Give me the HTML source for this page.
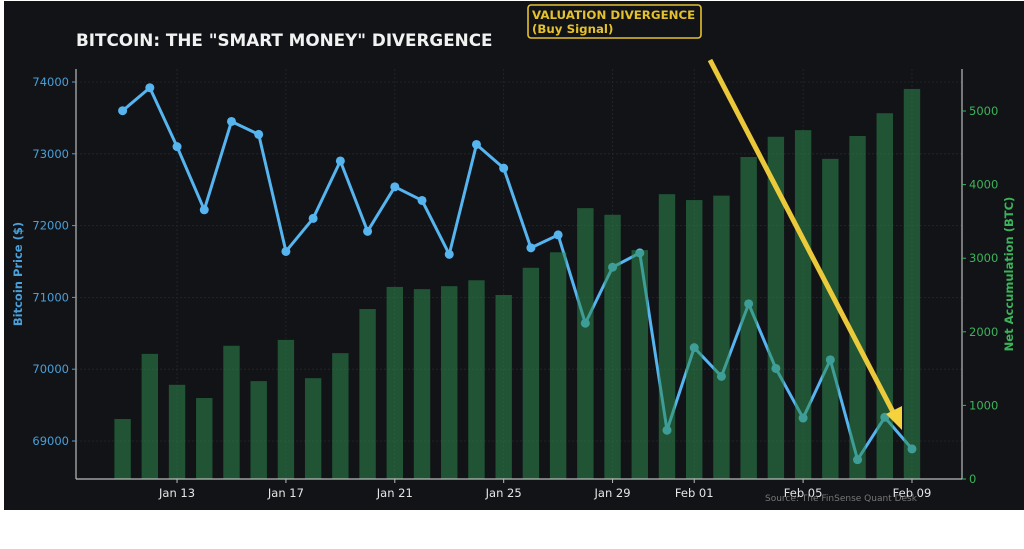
<!DOCTYPE html>
<html><head><meta charset="utf-8"><style>
html,body{margin:0;padding:0;background:#fff;width:1024px;height:549px;overflow:hidden}
svg{display:block}
text{font-family:"DejaVu Sans","Liberation Sans",sans-serif}
</style></head><body>
<svg id="s" width="1024" height="549" xmlns="http://www.w3.org/2000/svg">
<rect x="4" y="1" width="1020" height="509" fill="#111317"/>
<g id="grid"></g>
<g id="line"></g>
<g id="bars"></g>
<line x1="710" y1="60" x2="893" y2="412" stroke="#f6d23c" stroke-width="5" opacity="0.95"/>
<polygon points="886,414 902,406 902,430" fill="#f6d23c"/>
<line x1="76" y1="69" x2="76" y2="479" stroke="#bbb" stroke-width="1.2"/>
<line x1="962" y1="69" x2="962" y2="479" stroke="#bbb" stroke-width="1.2"/>
<line x1="76" y1="479" x2="962" y2="479" stroke="#bbb" stroke-width="1.2"/>
<g id="ticks"></g>
<text x="76" y="46" fill="#f2f2f2" font-size="16.8" font-weight="bold">BITCOIN: THE "SMART MONEY" DIVERGENCE</text>
<rect x="528" y="5" width="173" height="33" rx="3" fill="#111317" stroke="#e5c12e" stroke-width="1.6"/>
<text x="532" y="19" fill="#e5c12e" font-size="11.8" font-weight="bold">VALUATION DIVERGENCE</text>
<text x="532" y="33" fill="#e5c12e" font-size="11.8" font-weight="bold">(Buy Signal)</text>
<text transform="translate(22,274) rotate(-90)" text-anchor="middle" fill="#4a9fd8" font-size="11.5" font-weight="bold">Bitcoin Price ($)</text>
<text transform="translate(1013,274) rotate(-90)" text-anchor="middle" fill="#3cb35a" font-size="11.5" font-weight="bold">Net Accumulation (BTC)</text>
<text x="765" y="501" fill="#777" font-size="9">Source: The FinSense Quant Desk</text>
</svg>
<script>
const NS="http://www.w3.org/2000/svg";
function el(p,t,a,txt){const e=document.createElementNS(NS,t);for(const k in a)e.setAttribute(k,a[k]);if(txt!==undefined)e.textContent=txt;document.getElementById(p).appendChild(e);return e;}
const X=i=>122.6+i*27.22;
const P=[73600,73920,73100,72220,73450,73270,71640,72100,72900,71920,72540,72350,71600,73130,72800,71690,71870,70640,71420,71620,69150,70300,69900,70910,70010,69320,70130,68740,69330,68890];
const B=[815,1700,1280,1100,1810,1330,1890,1370,1710,2310,2610,2580,2620,2700,2500,2870,3080,3680,3590,3110,3870,3790,3850,4375,4650,4740,4350,4660,4970,5300];
const YP=p=>82+(74000-p)*0.0718, YB=b=>479-b*0.0736;
for(let v=69000;v<=74000;v+=1000){const y=YP(v);el("grid","line",{x1:76,x2:962,y1:y,y2:y,stroke:"#24272c","stroke-width":0.8,"stroke-dasharray":"2,2"});
el("ticks","line",{x1:72,x2:76,y1:y,y2:y,stroke:"#4a9fd8"});
el("ticks","text",{x:69,y:y+4,"text-anchor":"end",fill:"#4a9fd8","font-size":11.5},v);}
for(let b=0;b<=5000;b+=1000){const y=YB(b);el("ticks","line",{x1:962,x2:966,y1:y,y2:y,stroke:"#3cb35a"});
el("ticks","text",{x:969,y:y+4,fill:"#3cb35a","font-size":11.5},b);}
const L=[[2,"Jan 13"],[6,"Jan 17"],[10,"Jan 21"],[14,"Jan 25"],[18,"Jan 29"],[21,"Feb 01"],[25,"Feb 05"],[29,"Feb 09"]];
for(const [i,t] of L){const x=X(i);el("grid","line",{x1:x,x2:x,y1:69,y2:479,stroke:"#24272c","stroke-width":0.8,"stroke-dasharray":"2,2"});
el("ticks","line",{x1:x,x2:x,y1:479,y2:483,stroke:"#bbb"});
el("ticks","text",{x:x,y:497,"text-anchor":"middle",fill:"#e6e6e6","font-size":11.5},t);}
el("line","polyline",{points:P.map((p,i)=>X(i)+","+YP(p)).join(" "),fill:"none",stroke:"#56b4ef","stroke-width":3,"stroke-linejoin":"round"});
P.forEach((p,i)=>el("line","circle",{cx:X(i),cy:YP(p),r:4.5,fill:"#56b4ef"}));
B.forEach((b,i)=>el("bars","rect",{x:X(i)-8.2,y:YB(b),width:16.4,height:479-YB(b),fill:"#2e8b4f","fill-opacity":0.55}));
</script>
</body></html>
